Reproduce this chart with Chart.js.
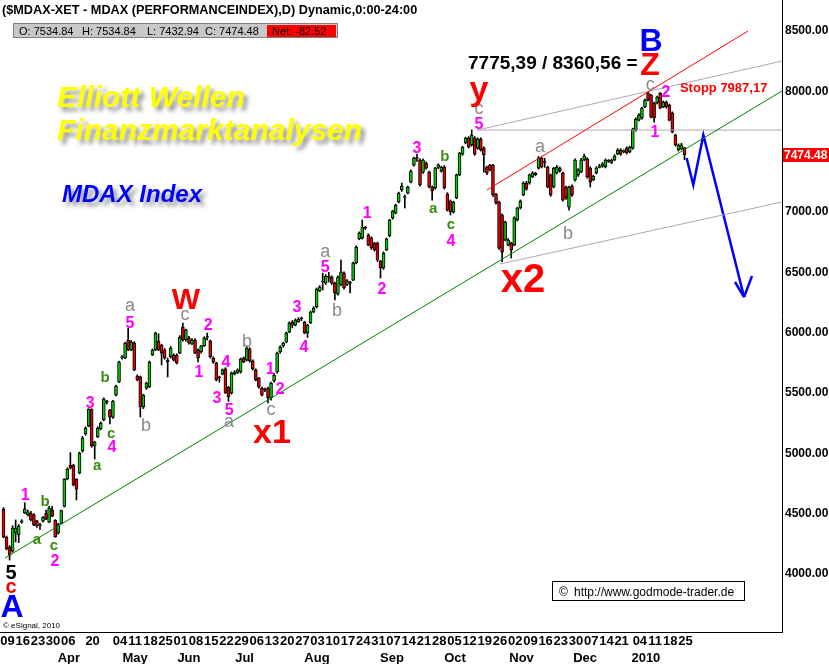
<!DOCTYPE html>
<html>
<head>
<meta charset="utf-8">
<script src="https://cdn.jsdelivr.net/npm/chart.js@4.4.1/dist/chart.umd.min.js"></script>
<style>
  html, body { margin: 0; padding: 0; background: #fff; }
  #wrap { width: 829px; height: 664px; }
</style>
</head>
<body>
<div id="wrap"><canvas id="c" width="829" height="664"></canvas></div>
<script>
// daily candles, one per trading day from 09 Mar 2009 to 26 Jan 2010
const opens = [4539,4306,4224,4190,4340,4323,4430,4505,4490,4505,4490,4440,4400,4440,4500,4430,4530,4447,4340,4420,
  4560,4787,4900,4903,4787,4837,5019,5160,5226,5367,5061,5135,5202,5276,5430,5359,5300,5483,5591,5790,
  5790,5939,5856,5914,5641,5633,5384,5541,5550,5815,5856,5931,5898,5856,5773,5798,5815,5815,5831,6047,
  5939,5956,5906,5939,5856,5840,5890,5960,5931,5790,5749,5633,5657,5700,5550,5500,5657,5670,5674,5790,
  5773,5864,5765,5691,5624,5541,5530,5541,5459,5600,5674,5840,5890,5922,6005,6088,6063,6090,6121,6088,
  5997,6080,6171,6213,6345,6420,6411,6465,6460,6411,6320,6400,6494,6400,6415,6436,6577,6776,6784,6870,
  6809,6785,6743,6743,6594,6536,6685,6801,6950,6992,7083,7182,7120,7157,7248,7389,7450,7431,7331,7406,
  7331,7207,7199,7370,7340,7373,7150,7090,7000,7116,7307,7480,7572,7613,7555,7613,7530,7605,7530,7373,
  7389,7389,7149,7083,6975,6768,6726,6743,6726,6934,7033,7141,7240,7240,7290,7320,7364,7447,7420,7373,
  7307,7207,7323,7364,7323,7207,7041,7215,7265,7307,7331,7431,7440,7364,7265,7323,7370,7380,7373,7425,
  7410,7431,7480,7514,7500,7530,7497,7530,7680,7762,7780,7870,7986,7969,7903,7903,7986,7870,7911,7887,
  7820,7638,7514,7522,7534.84];
const highs = [4550,4315,4235,4400,4448,4410,4450,4591,4530,4520,4500,4445,4420,4475,4530,4560,4560,4450,4420,4530,
  4790,4880,5005,4910,4790,5010,5140,5220,5370,5370,5100,5220,5260,5460,5440,5365,5440,5565,5765,5810,
  5920,6039,5935,5925,5650,5640,5490,5590,5765,5865,6005,5990,5905,5870,5790,5885,5825,5825,5975,6080,
  6030,5970,5950,5950,5865,5895,5965,5997,5940,5800,5755,5640,5700,5710,5555,5675,5685,5700,5790,5800,
  5890,5875,5775,5700,5630,5550,5540,5550,5590,5660,5840,5890,5920,6005,6090,6100,6115,6125,6130,6095,
  6070,6180,6215,6370,6390,6494,6480,6500,6470,6420,6470,6602,6505,6440,6425,6585,6720,6835,6934,6880,
  6820,6795,6750,6750,6600,6670,6785,6940,7015,7065,7165,7240,7141,7215,7350,7455,7480,7440,7440,7415,
  7340,7215,7370,7400,7380,7385,7160,7100,7090,7315,7495,7545,7620,7625,7680,7625,7615,7615,7540,7380,
  7395,7395,7155,7090,6985,6925,6780,6750,6960,7040,7100,7250,7255,7315,7335,7330,7460,7455,7445,7380,
  7315,7370,7385,7375,7330,7215,7215,7225,7440,7360,7445,7480,7450,7375,7305,7375,7395,7410,7440,7435,
  7440,7475,7525,7525,7515,7540,7545,7695,7780,7815,7870,7935,7995,7975,7910,7960,7990,7920,7920,7895,
  7830,7645,7565,7570,7534.84];
const lows = [4300,4200,4116,4180,4265,4260,4420,4500,4480,4440,4400,4385,4370,4430,4450,4425,4475,4305,4330,4415,
  4555,4780,4870,4730,4613,4830,5010,5150,5220,5050,4953,5130,5195,5270,5410,5243,5290,5475,5585,5780,
  5785,5850,5850,5685,5600,5301,5370,5530,5545,5810,5850,5850,5732,5780,5633,5790,5765,5740,5825,5930,
  5930,5905,5900,5825,5757,5830,5885,5939,5790,5745,5600,5590,5650,5495,5430,5490,5650,5660,5665,5750,
  5765,5755,5690,5600,5540,5475,5510,5417,5440,5590,5665,5830,5880,5915,6000,6040,6055,6085,6100,5990,
  5960,6075,6165,6205,6340,6354,6400,6420,6400,6271,6310,6390,6360,6390,6329,6430,6570,6770,6775,6855,
  6720,6690,6675,6590,6453,6525,6680,6795,6940,6985,7075,7170,7033,7150,7240,7380,7420,7215,7320,7355,
  7200,7099,7190,7360,7330,7190,7008,6975,6990,7110,7300,7470,7565,7530,7545,7470,7520,7505,7331,7310,
  7340,7130,7065,6690,6586,6760,6720,6619,6720,6925,7025,7135,7180,7230,7285,7300,7355,7365,7370,7200,
  7130,7200,7315,7330,7090,7105,7016,7130,7255,7295,7325,7425,7280,7207,7260,7315,7365,7370,7365,7410,
  7400,7425,7475,7470,7490,7480,7490,7520,7670,7755,7770,7865,7920,7780,7745,7895,7855,7865,7860,7755,
  7655,7545,7505,7515,7432.94];
const closes = [4306,4207,4157,4381,4381,4398,4440,4540,4515,4448,4406,4398,4410,4470,4455,4547,4480,4310,4410,4525,
  4787,4870,4880,4738,4704,5003,5127,5210,5367,5061,5094,5210,5251,5450,5425,5300,5434,5558,5757,5800,
  5914,5856,5922,5691,5608,5384,5483,5583,5757,5856,5997,5856,5831,5790,5760,5873,5773,5749,5964,5939,
  6022,5914,5939,5831,5790,5890,5956,5966,5798,5757,5608,5625,5691,5500,5467,5666,5674,5691,5782,5757,
  5873,5765,5700,5608,5550,5483,5525,5459,5583,5649,5831,5881,5914,5997,6080,6063,6105,6113,6113,5997,
  6063,6171,6204,6362,6378,6425,6469,6460,6411,6329,6461,6503,6370,6430,6410,6577,6710,6826,6876,6865,
  6726,6702,6685,6602,6536,6660,6776,6934,7008,7058,7157,7215,7125,7207,7340,7447,7440,7224,7431,7364,
  7207,7174,7364,7390,7373,7199,7016,7000,7083,7307,7489,7539,7613,7539,7638,7480,7605,7514,7472,7323,
  7348,7141,7075,6701,6668,6917,6768,6685,6950,7033,7091,7240,7190,7307,7323,7310,7447,7373,7410,7207,
  7141,7364,7373,7340,7099,7116,7207,7141,7431,7348,7431,7464,7290,7248,7298,7364,7381,7400,7431,7420,
  7431,7464,7514,7480,7505,7489,7539,7688,7770,7804,7862,7928,7928,7787,7779,7953,7862,7911,7870,7762,
  7663,7555,7555,7557,7474.48];

// axis labels (weekly Mondays by trading-day index, month names)
const weekIdx = [0,5,10,15,20,28,37,42,47,52,57,62,67,72,77,82,87,92,97,102,107,112,117,122,127,132,137,142,147,152,157,162,167,172,177,182,187,192,197,202,208,213,218,223];
const weekLbl = ['09','16','23','30','06','20','04','11','18','25','01','08','15','22','29','06','13','20','27','03','10','17','24','31','07','14','21','28','05','12','19','26','02','09','16','23','30','07','14','21','04','11','18','25'];
const monthLbl = ['Apr','May','Jun','Jul','Aug','Sep','Oct','Nov','Dec','2010'];
const monthIdx = [21.5,43.3,61,79.3,103.1,127.8,148.5,170.4,191.3,211.3];
// 7500 is covered by the last-price tag in the original
const yTicks = [4000,4500,5000,5500,6000,6500,7000,8000,8500];

// drawn lines: [trading-day index, price]
const greenTrend = [[0.5,4133],[256.07,8003]];
const redChannel = [[159,7182],[244.9,8500]];
const greyUpper = [[155.8,7679],[256.07,8251]];
const greyFlat = [[155.8,7679],[256.07,7679]];
const greyLower = [[163.3,6569],[256.07,7083]];
const blueProj = [[224.7,7447],[226.9,7224],[230.2,7638],[243.6,6295]];
const blueHeadL = [[240.6,6420],[243.6,6295]];
const blueHeadR = [[246.2,6470],[243.6,6295]];

// wave counts: [index, price, text]
const waveNums = [[7.1,4663,'1'],[16.9,4116,'2'],[28.5,5425,'3'],[35.7,5061,'4'],[41.6,6088,'5'],
  [64.3,5682,'1'],[67.3,6072,'2'],[70.2,5467,'3'],[73.2,5765,'4'],[74.2,5367,'5'],
  [87.7,5707,'1'],[91.0,5541,'2'],[96.5,6221,'3'],[98.8,5889,'4'],[105.8,6552,'5'],
  [119.6,7000,'1'],[124.5,6370,'2'],[136.0,7539,'3'],[147.2,6768,'4'],[156.4,7737,'5'],
  [214.3,7671,'1'],[217.9,8003,'2']];
const greyAbc = [[41.6,6221,'a'],[46.9,5243,'b'],[59.7,6146,'c'],[74.2,5260,'a'],[80.1,5939,'b'],[88.0,5359,'c'],
  [105.8,6668,'a'],[109.7,6188,'b'],[156.4,7853,'c'],[176.5,7539,'a'],[185.7,6834,'b'],[212.7,8052,'c']];
const greenAbc = [[11.0,4282,'a'],[13.7,4605,'b'],[16.6,4232,'c'],[30.8,4895,'a'],[33.4,5633,'b'],[35.4,5160,'c'],
  [141.3,7025,'a'],[145.2,7472,'b'],[147.2,6892,'c']];
const bigWaves = [[2.5,4017,'5'],[2.5,3892,'c'],[2.8,3735,'A'],[60.0,6279,'W'],[88.3,5177,'x1'],
  [156.4,7975,'y'],[170.9,6453,'x2'],[212.7,8226,'Z'],[213.0,8425,'B']];
const ratioNote = [152.8, 8226, '7775,39 / 8360,56 ='];
const stopNote = [222.5, 8019, 'Stopp 7987,17'];

const FONT = '"Liberation Sans", Arial, Helvetica, sans-serif';
const UP = '#00cc00', DOWN = '#e80000';
const bigStyle = {
  '5': ['bold 20px', '#000'], 'c': ['bold 20px', '#ff0000'], 'A': ['bold 32px', '#0000ff'],
  'W': ['bold 30px', '#ff0000'], 'x1': ['bold 34px', '#ff0000'], 'y': ['bold 34px', '#ff0000'],
  'x2': ['bold 40px', '#ff0000'], 'Z': ['bold 32px', '#ff0000'], 'B': ['bold 32px', '#0000ff']
};

const pts = (arr) => arr.map(p => ({ x: p[0], y: p[1] }));
const lineSet = (arr, color, width) => ({
  type: 'line', data: pts(arr), borderColor: color, borderWidth: width,
  pointRadius: 0, tension: 0, fill: false, order: 0
});

// text on the plot, positioned through the chart scales
const annotate = {
  id: 'annotate',
  afterDatasetsDraw(chart) {
    const ctx = chart.ctx, xs = chart.scales.x, ys = chart.scales.y;
    const put = (txt, i, p, font, color, align) => {
      ctx.font = font + ' ' + FONT;
      ctx.fillStyle = color;
      ctx.textAlign = align || 'center';
      ctx.textBaseline = 'alphabetic';
      const m = ctx.measureText(txt);
      const cy = ys.getPixelForValue(p);
      ctx.fillText(txt, xs.getPixelForValue(i), cy + (m.actualBoundingBoxAscent - m.actualBoundingBoxDescent) / 2);
    };
    ctx.save();
    waveNums.forEach(w => put(w[2], w[0], w[1], 'bold 16px', '#ff00ff'));
    greyAbc.forEach(w => put(w[2], w[0], w[1], '18px', '#8a8a8a'));
    greenAbc.forEach(w => put(w[2], w[0], w[1], 'bold 15px', '#3c8c14'));
    bigWaves.forEach(w => put(w[2], w[0], w[1], bigStyle[w[2]][0], bigStyle[w[2]][1]));
    put(ratioNote[2], ratioNote[0], ratioNote[1], 'bold 19px', '#000', 'left');
    put(stopNote[2], stopNote[0], stopNote[1], 'bold 13px', '#ff0000', 'left');

    // last price tag on the axis
    const yl = Math.round(ys.getPixelForValue(closes[closes.length - 1]));
    ctx.fillStyle = '#ff0000';
    ctx.fillRect(chart.chartArea.right + 1, yl - 7, 47, 14);
    ctx.fillStyle = '#fff';
    ctx.font = 'bold 12px ' + FONT;
    ctx.textAlign = 'left';
    ctx.textBaseline = 'middle';
    ctx.fillText(closes[closes.length - 1].toFixed(2), chart.chartArea.right + 2, yl + 1);

    // month row under the week labels
    ctx.fillStyle = '#000';
    ctx.font = 'bold 13px ' + FONT;
    ctx.textAlign = 'center';
    ctx.textBaseline = 'alphabetic';
    monthLbl.forEach((m, k) => ctx.fillText(m, xs.getPixelForValue(monthIdx[k]), 662));
    ctx.restore();
  },
  afterDraw(chart) {
    const ctx = chart.ctx;
    ctx.save();
    ctx.textAlign = 'left';
    ctx.textBaseline = 'alphabetic';
    ctx.fillStyle = '#000';
    ctx.font = 'bold 12.7px ' + FONT;
    ctx.fillText('($MDAX-XET - MDAX (PERFORMANCEINDEX),D) Dynamic,0:00-24:00', 2, 14);

    // OHLC strip
    ctx.fillStyle = '#c8c8c8';
    ctx.fillRect(13, 23, 325, 15);
    ctx.strokeStyle = '#808080';
    ctx.lineWidth = 1;
    ctx.strokeRect(13.5, 23.5, 324, 14);
    ctx.fillStyle = '#ff0000';
    ctx.fillRect(267, 25, 69, 12);
    ctx.fillStyle = '#000';
    ctx.font = '11px ' + FONT;
    ctx.fillText('O: 7534.84', 19, 35);
    ctx.fillText('H: 7534.84', 82, 35);
    ctx.fillText('L: 7432.94', 147, 35);
    ctx.fillText('C: 7474.48', 205, 35);
    ctx.fillText('Net: -82.52', 272, 35);

    // headline texts with soft shadow
    ctx.shadowColor = 'rgba(60,60,60,0.55)';
    ctx.shadowOffsetX = 4;
    ctx.shadowOffsetY = 4;
    ctx.shadowBlur = 4;
    ctx.fillStyle = '#ffff00';
    ctx.font = 'italic bold 30px ' + FONT;
    ctx.fillText('Elliott Wellen', 57, 107);
    ctx.fillText('Finanzmarktanalysen', 57, 140);
    ctx.fillStyle = '#0000ff';
    ctx.font = 'italic bold 24px ' + FONT;
    ctx.fillText('MDAX Index', 62, 202);
    ctx.shadowColor = 'transparent';

    // source box
    ctx.fillStyle = '#fff';
    ctx.fillRect(552, 581, 193, 20);
    ctx.strokeStyle = '#000';
    ctx.strokeRect(552.5, 581.5, 192, 19);
    ctx.fillStyle = '#000';
    ctx.font = '12px ' + FONT;
    ctx.fillText('\u00a9', 559, 596);
    ctx.fillText('http://www.godmode-trader.de', 574, 596);

    ctx.font = '8px ' + FONT;
    ctx.fillText('\u00a9 eSignal, 2010', 3, 628);
    ctx.restore();
  }
};

const ctx = document.getElementById('c').getContext('2d');
new Chart(ctx, {
  type: 'bar',
  data: {
    datasets: [
      lineSet(greenTrend, '#008000', 1),
      lineSet(redChannel, '#ff0000', 1),
      lineSet(greyUpper, '#b4a4b4', 1),
      lineSet(greyFlat, '#b4a4b4', 1),
      lineSet(greyLower, '#b4a4b4', 1),
      {
        type: 'bar', order: 2, grouped: false,
        data: opens.map((o, i) => ({ x: i, y: [lows[i], highs[i]] })),
        backgroundColor: '#000', borderWidth: 0, barThickness: 1
      },
      {
        type: 'bar', order: 1, grouped: false,
        data: opens.map((o, i) => ({ x: i, y: [o, closes[i]] })),
        backgroundColor: opens.map((o, i) => closes[i] >= o ? UP : DOWN),
        borderColor: '#000', borderWidth: 1, borderSkipped: false,
        barThickness: 3, minBarLength: 1
      },
      lineSet(blueProj, '#0000ff', 2.5),
      lineSet(blueHeadL, '#0000ff', 2.5),
      lineSet(blueHeadR, '#0000ff', 2.5)
    ]
  },
  options: {
    responsive: false,
    animation: false,
    events: [],
    layout: { padding: 0 },
    plugins: { legend: { display: false }, tooltip: { enabled: false }, title: { display: false } },
    scales: {
      x: {
        type: 'linear', min: -1.151, max: 256.07, offset: false,
        grid: { display: false, drawTicks: false },
        border: { display: true, color: '#000', width: 1 },
        ticks: {
          autoSkip: false, maxRotation: 0, minRotation: 0, color: '#000', padding: 2, labelOffset: 4,
          font: { family: FONT, size: 13, weight: 'bold' },
          callback: (v, i) => weekLbl[i]
        },
        afterBuildTicks: (ax) => { ax.ticks = weekIdx.map(v => ({ value: v })); },
        afterFit: (ax) => { ax.height = 32; ax.paddingLeft = 0; ax.paddingRight = 0; }
      },
      y: {
        type: 'linear', position: 'right', min: 3519.3, max: 8756.9,
        grid: { display: false, drawTicks: false },
        border: { display: true, color: '#000', width: 1 },
        ticks: {
          color: '#000', padding: 3,
          font: { family: FONT, size: 12, weight: 'bold' },
          callback: (v) => v.toFixed(2)
        },
        afterBuildTicks: (ax) => { ax.ticks = yTicks.map(v => ({ value: v })); },
        afterFit: (ax) => { ax.width = 47; ax.paddingTop = 0; ax.paddingBottom = 0; }
      }
    }
  },
  plugins: [annotate]
});
</script>
</body>
</html>
